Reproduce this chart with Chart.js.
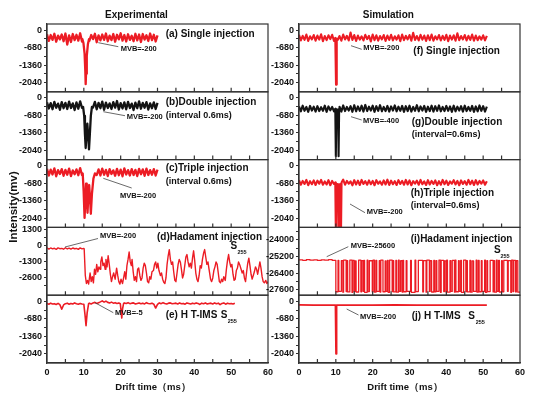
<!DOCTYPE html>
<html lang="en">
<head>
  <meta charset="UTF-8"/>
  <title>IMS injection traces</title>
  <script src="https://cdn.jsdelivr.net/npm/chart.js"></script>
  <style>
    body { margin: 0; background: #fff; }
    canvas { position: absolute; top: 0; }
    #expChart { left: 0; }
    #simChart { left: 250px; }
  </style>
</head>
<body>
  <canvas id="expChart" width="290" height="399"></canvas>
  <canvas id="simChart" width="285" height="399"></canvas>

  <script>
    // ---- axis ticks ----
    const xLabels = [0, 10, 20, 30, 40, 50, 60];
    const xMarks = [5, 10, 15, 20, 25, 30, 35, 40, 45, 50, 55];
    const mvMajor = [0, -680, -1360, -2040];
    const mvMinor = [-340, -1020, -1700];
    const hadMajor = [1300, 0, -1300, -2600];
    const hadMinor = [650, -650, -1950, -3250];
    const simHadMajor = [-24000, -25200, -26400, -27600];
    const simHadMinor = [-23400, -24600, -25800, -27000];

    // ---- experimental traces (noise sampled every 0.5 ms from 0) ----
    const aBase = [
      -160, -420, -190, -380, -140, -450, -210, -360, -170, -430,
      -130, -560, -200, -460, -150, -390, -180, -410, -120, -440,
      -230, -370, -160, -420, -190, -350, -140, -470, -200, -400,
      -170, -380, -130, -430, -210, -390, -150, -450, -180, -360,
      -120, -410, -190, -440, -160, -380, -220, -430, -140, -400,
      -170, -460, -150, -370, -200, -420, -130, -390, -180, -440,
      -200];
    const aPeakT = [9.6, 9.9, 10.2, 10.4, 10.5, 10.6, 10.8, 11.1, 11.4];
    const aPeakV = [-350, -500, -900, -1600, -2100, -1700, -1000, -550, -350];

    const bBase = [
      -170, -410, -200, -440, -150, -380, -220, -460, -160, -400,
      -190, -430, -140, -390, -210, -470, -170, -420, -130, -380,
      -200, -450, -160, -410, -230, -370, -150, -440, -190, -400,
      -140, -460, -180, -390, -210, -430, -160, -380, -120, -450,
      -200, -410, -170, -440, -150, -390, -220, -470, -180, -400,
      -130, -420, -190, -380, -160, -450, -210, -400, -170, -430,
      -190];
    const bPeakT = [9.8, 10.1, 10.3, 10.5, 10.7, 10.95, 11.2, 11.4, 11.6, 11.9, 12.2];
    const bPeakV = [-350, -700, -1400, -1950, -1500, -1000, -1500, -2000, -1500, -700, -350];

    const cBase = [
      -120, -380, -150, -340, -100, -410, -170, -320, -130, -390,
      -160, -350, -110, -400, -180, -330, -140, -370, -90, -360,
      -150, -390, -120, -340, -170, -410, -100, -360, -140, -380,
      -110, -350, -160, -400, -130, -320, -180, -390, -120, -370,
      -150, -410, -100, -340, -170, -380, -130, -360, -160, -400,
      -120, -330, -140, -390, -110, -360, -170, -350, -130, -380,
      -150];
    const cPeakT = [9.7, 9.95, 10.2, 10.45, 10.6, 10.8, 11.0, 11.25, 11.45, 11.7, 11.9, 12.2, 12.6, 13.0];
    const cPeakV = [-300, -1000, -2030, -1200, -700, -1200, -1830, -1100, -750, -1300, -1870, -1100, -500, -300];

    // (time ms, mV) pairs
    const dPoints = [
      [0, -150], [0.5, -260], [1, -170], [1.5, -240], [2, -190], [2.5, -280], [3, -160], [3.5, -230],
      [4, -200], [4.5, -270], [5, -150], [5.5, -250], [6, -180], [6.5, -260], [7, -170], [7.5, -230],
      [8, -210], [8.5, -280], [9, -160], [9.5, -240], [10, -200],
      [10.1, -250], [10.4, -2400], [10.7, -3050], [11.0, -2800], [11.3, -3100], [11.7, -2200], [12.0, -2900],
      [12.3, -2500], [12.6, -3000], [12.9, -1900], [13.2, -2300], [13.5, -1500], [13.8, -2100], [14.1, -1700],
      [14.4, -1900], [14.6, -1300], [14.9, -900], [15.2, -1600], [15.5, -1400], [15.8, -1900], [16.0, -1100],
      [16.3, -1700], [16.6, -800], [16.9, -1500], [17.2, -2300], [17.5, -2900], [17.8, -2500], [18.1, -2200],
      [18.5, -2700], [18.9, -1800], [19.2, -2400], [19.5, -2900], [19.8, -3100], [20.1, -2700], [20.5, -3050],
      [20.8, -2600], [21.1, -2100], [21.4, -2700], [21.7, -1600], [22.0, -1100], [22.3, -500], [22.6, -1300],
      [22.9, -1600], [23.1, -1100], [23.4, -2100], [23.7, -2800], [24.0, -2500], [24.3, -2900], [24.6, -1900],
      [24.9, -1800], [25.2, -2400], [25.5, -2800], [25.8, -2600], [26.1, -1800], [26.4, -1400], [26.7, -1600],
      [27.0, -2200], [27.3, -2900], [27.6, -3000], [27.9, -2500], [28.2, -2700], [28.5, -2100], [28.9, -2000],
      [29.2, -1500], [29.5, -1300], [29.8, -1800], [30.1, -1400], [30.4, -2000], [30.8, -2400], [31.1, -2200],
      [31.4, -2700], [31.7, -2950], [32.0, -3050], [32.3, -2600], [32.6, -1500], [32.9, -800], [33.2, -300],
      [33.5, -1100], [33.8, -1500], [34.1, -1300], [34.4, -2100], [34.7, -2800], [35.0, -2900], [35.3, -2200],
      [35.6, -1500], [35.9, -1100], [36.2, -1300], [36.5, -1900], [36.8, -2600], [37.1, -2300], [37.4, -1600],
      [37.7, -900], [38.0, -700], [38.3, -1300], [38.6, -1700], [38.9, -1400], [39.2, -1800], [39.5, -1000],
      [39.8, -400], [40.1, -1200], [40.4, -2200], [40.7, -2700], [41.0, -2900], [41.3, -2400], [41.6, -1600],
      [41.9, -1800], [42.2, -1100], [42.5, -600], [42.8, -300], [43.1, -900], [43.4, -1500], [43.7, -1300],
      [44.0, -1900], [44.4, -2700], [44.7, -2900], [45.0, -2600], [45.3, -2000], [45.6, -1700], [45.9, -1300],
      [46.2, -1500], [46.5, -2200], [46.8, -2900], [47.1, -3000], [47.4, -2700], [47.7, -2900], [48.0, -2500],
      [48.4, -2800], [48.7, -1900], [49.0, -1200], [49.3, -700], [49.6, -1300], [49.9, -1700], [50.2, -1500],
      [50.5, -2300], [50.8, -2800], [51.1, -2700], [51.4, -2000], [51.7, -1800], [52.0, -1300], [52.4, -1600],
      [52.7, -1900], [53.0, -2200], [53.3, -2000], [53.6, -2600], [53.9, -2900], [54.2, -2100], [54.5, -1400],
      [54.8, -1000], [55.1, -1600], [55.4, -2300], [55.7, -2700], [56.0, -2400], [56.3, -2100], [56.6, -1700],
      [56.9, -1900], [57.2, -2300], [57.5, -1800], [57.8, -1300], [58.1, -1800], [58.4, -2500], [58.7, -2900],
      [59.0, -3000], [59.4, -2800], [59.7, -3050], [60.0, -2900]
    ];

    const eBase = [
      -80, -110, -70, -100, -90, -120, -80, -130, -300, -140,
      -90, -70, -110, -80, -100, -60, -90, -110, -80, -100,
      -90, -120, -80, -70, -100, -60, -40, -80, -50, -20,
      20, -30, 10, -40, -60, -30, -70, -50, -80, -60,
      -70, -90, -60, -80, -50, -90, -70, -60, -100, -80,
      -60, -90, -70, -100, -50, -80, -90, -70, -110, -260,
      -120, -60, -90, -50, -80, -100, -70, -60, -90, -80,
      -70, -100, -60, -90, -80, -110, -60, -80, -100, -70,
      -90, -60, -80, -120, -70, -90, -60, -100, -80, -70,
      -100, -60, -90, -70, -130, -80, -60, -110, -70, -90,
      -80, -100, -70];
    const ePeakT = [10.0, 10.3, 10.6, 10.9, 11.3];
    const ePeakV = [-110, -500, -950, -450, -90];
    const eDipT = [19.9, 20.1, 20.3, 20.5, 20.8];
    const eDipV = [-90, -350, -650, -300, -80];

    // ---- simulation traces (noise sampled every 0.5 ms from 0) ----
    const fBase = [
      -180, -400, -220, -380, -170, -420, -240, -360, -190, -410,
      -210, -370, -160, -430, -230, -390, -200, -350, -180, -420,
      -200, -380, -230, -410, -170, -360, -220, -400, -90, -380,
      -190, -420, -210, -370, -240, -400, -180, -350, -220, -440,
      -170, -390, -200, -410, -230, -360, -190, -420, -210, -380,
      -180, -400, -240, -370, -200, -430, -170, -390, -220, -360,
      -190, -410, -100, -380, -230, -400, -180, -370, -210, -420,
      -200, -390, -170, -410, -240, -360, -190, -400, -220, -380,
      -180, -430, -210, -370, -200, -410, -120, -390, -230, -360,
      -190, -400, -220, -380, -170, -410, -210, -390, -240, -370,
      -200, -400, -220];
    const fPeakT = [9.85, 10.05, 10.25];
    const fPeakV = [-300, -2120, -330];

    const gBase = [
      -330, -520, -300, -500, -350, -540, -310, -490, -340, -530,
      -320, -510, -360, -500, -300, -540, -330, -480, -350, -520,
      -310, -500, -340, -530, -290, -510, -350, -490, -320, -540,
      -280, -520, -330, -500, -300, -530, -270, -510, -340, -490,
      -300, -540, -320, -500, -280, -520, -350, -510, -310, -530,
      -330, -490, -290, -520, -340, -500, -310, -540, -320, -510,
      -300, -530, -350, -500, -280, -520, -330, -490, -310, -540,
      -340, -510, -300, -530, -320, -500, -290, -520, -350, -510,
      -310, -500, -330, -540, -300, -520, -340, -490, -320, -530,
      -300, -510, -350, -500, -310, -540, -330, -520, -290, -500,
      -320, -530, -340];
    const gPeakT = [9.85, 10.0, 10.15, 10.6, 10.75, 10.9];
    const gPeakV = [-420, -2270, -450, -450, -2270, -430];

    const hBase = [
      -560, -740, -590, -710, -550, -760, -600, -720, -570, -750,
      -580, -700, -550, -740, -610, -730, -560, -760, -590, -710,
      -600, -750, -570, -720, -540, -740, -590, -700, -610, -760,
      -560, -730, -580, -750, -550, -710, -600, -740, -570, -720,
      -590, -760, -560, -700, -610, -740, -570, -730, -540, -750,
      -580, -720, -600, -750, -560, -710, -590, -740, -550, -730,
      -570, -760, -600, -700, -580, -740, -550, -720, -610, -750,
      -560, -730, -590, -710, -570, -760, -600, -740, -550, -720,
      -580, -750, -610, -700, -560, -730, -590, -760, -570, -710,
      -600, -740, -550, -720, -580, -750, -560, -730, -590, -700,
      -570, -740, -600];
    const hPeakT = [9.85, 10.0, 10.15, 10.55, 10.7, 10.85, 11.25, 11.4, 11.55];
    const hPeakV = [-650, -2600, -700, -720, -2600, -720, -720, -2600, -650];

    // (time ms, mV) pairs, each level holds until the next time
    const iSteps = [
      [0, -25450], [1, -25480], [2, -25430], [3, -25470], [4, -25440], [5, -25490], [6, -25450],
      [7, -25470], [8, -25430], [9, -25480],
      [10.0, -27750], [10.6, -25480], [10.8, -27720], [11.5, -25500], [11.9, -27780], [12.1, -25460],
      [12.8, -27740], [13.0, -25510], [13.2, -27760], [13.8, -25470], [14.4, -27800], [14.6, -25490],
      [15.0, -27730], [15.3, -25520], [15.5, -27770], [16.2, -25460], [16.8, -27750], [17.0, -25500],
      [17.4, -27720], [17.6, -25480], [17.8, -27790], [18.5, -25470], [18.7, -27740], [19.1, -25510],
      [19.9, -27760], [20.1, -25460], [20.5, -27780], [20.9, -25490], [21.1, -27730], [21.8, -25500],
      [22.0, -27770], [22.2, -25470], [22.8, -27750], [23.4, -25520], [23.6, -27720], [24.0, -25480],
      [24.2, -27790], [24.6, -25460], [25.3, -27740], [25.5, -25500], [25.7, -27760], [26.3, -25490],
      [26.5, -27780], [27.0, -25470], [27.2, -27730], [27.6, -25510], [28.0, -27770], [28.2, -25480],
      [28.4, -27750], [29.1, -25500], [29.3, -27720], [30.3, -25490], [30.5, -27790], [31.5, -25460],
      [31.7, -27740], [32.4, -25480], [33.6, -27760], [33.8, -25500], [34.5, -27780], [34.7, -25470],
      [35.4, -27730], [35.6, -25510], [36.0, -27770], [36.6, -25480], [36.8, -27750], [37.2, -25500],
      [37.4, -27720], [38.0, -25460], [38.4, -27790], [38.6, -25490], [39.3, -27740], [39.5, -25520],
      [39.9, -27760], [40.1, -25470], [40.3, -27780], [41.0, -25500], [41.2, -27730], [41.6, -25480],
      [42.2, -27770], [42.4, -25460], [42.6, -27750], [43.3, -25510], [43.5, -27720], [43.9, -25490],
      [44.1, -27790], [44.7, -25470], [45.3, -27740], [45.5, -25500], [45.7, -27760], [46.4, -25480],
      [46.6, -27780], [47.0, -25520], [47.4, -27730], [48.1, -25460], [48.3, -27770], [48.7, -25490],
      [48.9, -27750], [49.5, -25500], [49.7, -27720], [50.4, -25470], [50.6, -27790], [51.0, -25510],
      [51.2, -27740], [51.9, -25480], [52.7, -27760], [52.9, -25500], [53.1, -27780], [53.6, -25460],
      [53.8, -27730], [54.2, -25490], [54.4, -27770], [55.0, -25510], [55.2, -27750], [55.6, -25480],
      [56.6, -27720], [56.8, -25500], [57.5, -27790], [57.7, -25470], [58.1, -27740], [58.3, -25490],
      [58.8, -27760], [59.0, -25500], [59.4, -27780], [60.0, -27750]
    ];

    const jT = [0, 4, 8, 9.9, 10.05, 10.2, 14, 20, 26, 32, 38, 44, 51];
    const jV = [-140, -150, -145, -150, -2040, -150, -145, -150, -140, -150, -145, -150, -150];

    // ---- helpers ----
    const RED = '#ec1c24';
    const BLACK = '#141414';
    const FONT = '"Liberation Sans", Arial, sans-serif';

    // baseline samples + peak points, baseline dropped inside each peak window
    function trace(t0, dt, base, peaks) {
      const pts = [];
      base.forEach((v, i) => {
        const x = t0 + i * dt;
        const inside = peaks.some(([T]) => x >= T[0] && x <= T[T.length - 1]);
        if (!inside) pts.push({x, y: v});
      });
      peaks.forEach(([T, V]) => T.forEach((x, i) => pts.push({x, y: V[i]})));
      return pts.sort((p, q) => p.x - q.x);
    }
    const pairs = list => list.map(([x, y]) => ({x, y}));
    const zip = (T, V) => T.map((x, i) => ({x, y: V[i]}));

    function yAxis(min, max, major, minor, weight, width) {
      return {
        type: 'linear', position: 'left', stack: 'col', stackWeight: 1, weight,
        min, max,
        afterBuildTicks: s => { s.ticks = major.concat(minor).map(v => ({value: v})); },
        afterFit: s => { s.width = width; },
        ticks: {
          autoSkip: false, padding: 2, color: '#111',
          font: {family: FONT, size: 9, weight: 'bold'},
          callback: v => major.includes(v) ? String(v) : ''
        },
        grid: {drawOnChartArea: false, drawTicks: true, tickLength: 3, color: '#333'},
        border: {display: true, color: '#333', width: 1.2}
      };
    }

    function xAxis() {
      return {
        type: 'linear', position: 'bottom', min: 0, max: 60,
        afterBuildTicks: s => { s.ticks = xLabels.map(v => ({value: v})); },
        afterFit: s => { s.height = 36; },
        ticks: {
          autoSkip: false, padding: 4, color: '#111', maxRotation: 0,
          font: {family: FONT, size: 9, weight: 'bold'}
        },
        grid: {drawOnChartArea: false, drawTicks: false},
        border: {display: true, color: '#333', width: 1.2}
      };
    }

    function line(data, yID, color, width, stepped) {
      return {
        data, xAxisID: 'x', yAxisID: yID, borderColor: color, borderWidth: width,
        pointRadius: 0, tension: 0, fill: false, stepped: stepped || false,
        borderJoinStyle: 'round'
      };
    }

    const framePlugin = {
      id: 'frames',
      afterDatasetsDraw(chart) {
        const {ctx, chartArea, scales} = chart;
        ctx.save();
        ctx.strokeStyle = '#333';
        ctx.lineWidth = 1.2;
        Object.values(scales).forEach(s => {
          if (s.axis !== 'y') return;
          ctx.strokeRect(chartArea.left, s.top, chartArea.right - chartArea.left, s.bottom - s.top);
          ctx.beginPath();
          xMarks.forEach(t => {
            const px = scales.x.getPixelForValue(t);
            ctx.moveTo(px, s.bottom);
            ctx.lineTo(px, s.bottom - 4);
          });
          ctx.stroke();
        });
        ctx.restore();
      },
      afterDraw(chart, args, opts) {
        const ctx = chart.ctx;
        const dx = opts.offsetX || 0;
        ctx.save();
        ctx.strokeStyle = '#444';
        ctx.lineWidth = 0.8;
        (opts.leaders || []).forEach(([x1, y1, x2, y2]) => {
          ctx.beginPath();
          ctx.moveTo(x1 - dx, y1);
          ctx.lineTo(x2 - dx, y2);
          ctx.stroke();
        });
        ctx.fillStyle = '#111';
        ctx.textBaseline = 'middle';
        (opts.notes || []).forEach(n => {
          ctx.save();
          ctx.font = 'bold ' + n.size + 'px ' + FONT;
          ctx.textAlign = n.align || 'left';
          ctx.translate(n.x - dx, n.y);
          if (n.rot) ctx.rotate(n.rot);
          ctx.fillText(n.text, 0, 0);
          ctx.restore();
        });
        ctx.restore();
      }
    };

    function makeChart(id, datasets, scales, padRight, notes, leaders, offsetX) {
      return new Chart(document.getElementById(id), {
        type: 'line',
        data: {datasets},
        options: {
          responsive: false, animation: false, events: [],
          layout: {padding: {left: 0, right: padRight, top: 24, bottom: 0}},
          scales,
          plugins: {
            legend: {display: false}, tooltip: {enabled: false},
            frames: {notes, leaders, offsetX}
          }
        },
        plugins: [framePlugin]
      });
    }

    // ---- experimental column ----
    makeChart('expChart', [
      line(trace(0, 0.5, aBase, [[aPeakT, aPeakV]]), 'ya', RED, 2.3),
      line(trace(0, 0.5, bBase, [[bPeakT, bPeakV]]), 'yb', BLACK, 2.3),
      line(trace(0, 0.5, cBase, [[cPeakT, cPeakV]]), 'yc', RED, 2.3),
      line(pairs(dPoints), 'yd', RED, 1.4),
      line(trace(0, 0.5, eBase, [[ePeakT, ePeakV], [eDipT, eDipV]]), 'ye', RED, 1.6)
    ], {
      x: xAxis(),
      ya: yAxis(-2400, 240, mvMajor, mvMinor, 5, 47),
      yb: yAxis(-2400, 240, mvMajor, mvMinor, 4, 47),
      yc: yAxis(-2400, 240, mvMajor, mvMinor, 3, 47),
      yd: yAxis(-4000, 1500, hadMajor, hadMinor, 2, 47),
      ye: yAxis(-2400, 240, mvMajor, mvMinor, 1, 47)
    }, 22, [
      {text: 'Experimental', x: 136.5, y: 15, size: 10, align: 'center'},
      {text: 'Intensity(mv)', x: 13.5, y: 207, size: 11.5, align: 'center', rot: -Math.PI / 2},
      {text: 'Drift time（ms）', x: 153, y: 387, size: 9.5, align: 'center'},
      {text: '(a) Single injection', x: 165.7, y: 34.5, size: 10},
      {text: 'MVB=-200', x: 120.7, y: 49.3, size: 7.5},
      {text: '(b)Double injection', x: 165.7, y: 102.3, size: 10},
      {text: '(interval 0.6ms)', x: 165.7, y: 115.7, size: 9},
      {text: 'MVB=-200', x: 126.7, y: 117, size: 7.5},
      {text: '(c)Triple injection', x: 165.7, y: 168.3, size: 10},
      {text: '(interval 0.6ms)', x: 165.7, y: 181.7, size: 9},
      {text: 'MVB=-200', x: 120, y: 195.7, size: 7.5},
      {text: '(d)Hadament injection', x: 157, y: 237.5, size: 10},
      {text: 'MVB=-200', x: 100, y: 235.5, size: 7.5},
      {text: 'S', x: 230.5, y: 246, size: 10},
      {text: '255', x: 237.5, y: 252.3, size: 5.5},
      {text: '(e) H T-IMS', x: 165.7, y: 315, size: 10},
      {text: 'S', x: 220.7, y: 315, size: 10},
      {text: '255', x: 227.7, y: 321.7, size: 5.5},
      {text: 'MVB=-5', x: 115, y: 313.3, size: 7.5}
    ], [
      [98.3, 42.7, 118.3, 46.7], [103.3, 111.7, 125, 115.7], [103.3, 178.3, 131.7, 188],
      [65, 247, 98, 238.5], [95, 302.7, 113.3, 312.7]
    ], 0);

    // ---- simulation column ----
    makeChart('simChart', [
      line(trace(0, 0.5, fBase, [[fPeakT, fPeakV]]), 'yf', RED, 2.1),
      line(trace(0, 0.5, gBase, [[gPeakT, gPeakV]]), 'yg', BLACK, 2.1),
      line(trace(0, 0.5, hBase, [[hPeakT, hPeakV]]), 'yh', RED, 2.1),
      line(pairs(iSteps), 'yi', RED, 1.3, 'before'),
      line(zip(jT, jV), 'yj', RED, 1.8)
    ], {
      x: xAxis(),
      yf: yAxis(-2400, 240, mvMajor, mvMinor, 5, 49),
      yg: yAxis(-2400, 240, mvMajor, mvMinor, 4, 49),
      yh: yAxis(-2400, 240, mvMajor, mvMinor, 3, 49),
      yi: yAxis(-28000, -23100, simHadMajor, simHadMinor, 2, 49),
      yj: yAxis(-2400, 240, mvMajor, mvMinor, 1, 49)
    }, 15, [
      {text: 'Simulation', x: 388.3, y: 15, size: 10, align: 'center'},
      {text: 'Drift time（ms）', x: 405, y: 387, size: 9.5, align: 'center'},
      {text: '(f) Single injection', x: 413.3, y: 51.7, size: 10},
      {text: 'MVB=-200', x: 363.3, y: 47.7, size: 7.5},
      {text: '(g)Double injection', x: 411.7, y: 122.3, size: 10},
      {text: '(interval=0.6ms)', x: 411.7, y: 135, size: 9},
      {text: 'MVB=-400', x: 363, y: 121, size: 7.5},
      {text: '(h)Triple injection', x: 410.7, y: 193.3, size: 10},
      {text: '(interval=0.6ms)', x: 410.7, y: 205.7, size: 9},
      {text: 'MVB=-200', x: 366.7, y: 211.7, size: 7.5},
      {text: '(i)Hadament injection', x: 410.7, y: 239.3, size: 10},
      {text: 'MVB=-25600', x: 350.7, y: 246, size: 7.5},
      {text: 'S', x: 494, y: 250.3, size: 10},
      {text: '255', x: 500.5, y: 256.7, size: 5.5},
      {text: '(j) H T-IMS', x: 411.7, y: 316.7, size: 10},
      {text: 'S', x: 468.3, y: 316.7, size: 10},
      {text: '255', x: 475.7, y: 322.7, size: 5.5},
      {text: 'MVB=-200', x: 360, y: 316.7, size: 7.5}
    ], [
      [351, 45.7, 361.7, 49.3], [351, 116.7, 361.7, 120], [350, 204, 365, 212.7],
      [326.7, 256.7, 348.3, 246.7], [346.7, 309, 358.5, 315]
    ], 250);
  </script>
</body>
</html>
